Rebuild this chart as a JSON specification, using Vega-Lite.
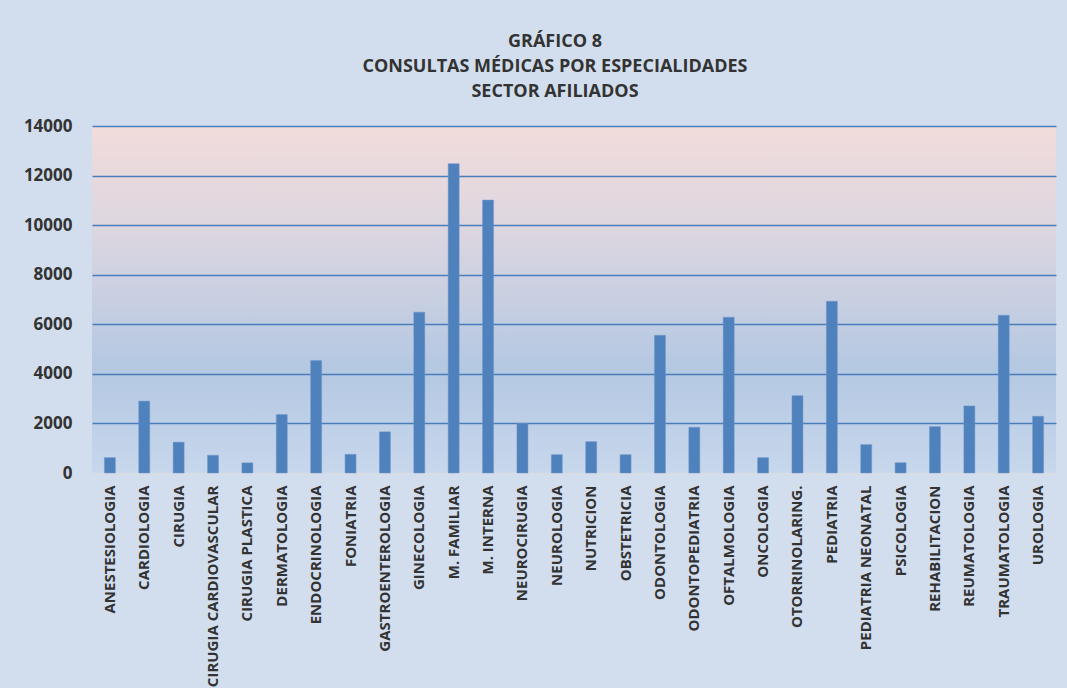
{
  "$schema": "https://vega.github.io/schema/vega-lite/v6.json",
  "width": 964,
  "height": 347,
  "autosize": {"type": "none"},
  "padding": {"left": 92, "top": 126, "right": 11, "bottom": 215},
  "background": "#d2deed",
  "title": {
    "text": ["GRÁFICO 8", "CONSULTAS MÉDICAS POR ESPECIALIDADES", "SECTOR AFILIADOS"],
    "font": "Open Sans",
    "fontSize": 18,
    "fontWeight": "bold",
    "color": "#333333",
    "lineHeight": 25,
    "anchor": "middle",
    "dx": -19,
    "offset": 16
  },
  "config": {
    "view": {
      "stroke": null,
      "fill": {
        "gradient": "linear",
        "x1": 0, "y1": 0, "x2": 0, "y2": 1,
        "stops": [
          {"offset": 0, "color": "#f2dcdb"},
          {"offset": 0.3, "color": "#dcd6e0"},
          {"offset": 0.7, "color": "#b4c8e2"},
          {"offset": 1, "color": "#c7d7ec"}
        ]
      }
    },
    "font": "Open Sans"
  },
  "data": {
    "values": [
      {"especialidad": "ANESTESIOLOGIA", "consultas": 620},
      {"especialidad": "CARDIOLOGIA", "consultas": 2900},
      {"especialidad": "CIRUGIA", "consultas": 1245},
      {"especialidad": "CIRUGIA CARDIOVASCULAR", "consultas": 715},
      {"especialidad": "CIRUGIA PLASTICA", "consultas": 410},
      {"especialidad": "DERMATOLOGIA", "consultas": 2360},
      {"especialidad": "ENDOCRINOLOGIA", "consultas": 4540},
      {"especialidad": "FONIATRIA", "consultas": 755},
      {"especialidad": "GASTROENTEROLOGIA", "consultas": 1660},
      {"especialidad": "GINECOLOGIA", "consultas": 6490},
      {"especialidad": "M. FAMILIAR", "consultas": 12480},
      {"especialidad": "M. INTERNA", "consultas": 11010},
      {"especialidad": "NEUROCIRUGIA", "consultas": 1995},
      {"especialidad": "NEUROLOGIA", "consultas": 740},
      {"especialidad": "NUTRICION", "consultas": 1265},
      {"especialidad": "OBSTETRICIA", "consultas": 740},
      {"especialidad": "ODONTOLOGIA", "consultas": 5560},
      {"especialidad": "ODONTOPEDIATRIA", "consultas": 1845},
      {"especialidad": "OFTALMOLOGIA", "consultas": 6285},
      {"especialidad": "ONCOLOGIA", "consultas": 620},
      {"especialidad": "OTORRINOLARING.", "consultas": 3120},
      {"especialidad": "PEDIATRIA", "consultas": 6930},
      {"especialidad": "PEDIATRIA NEONATAL", "consultas": 1145},
      {"especialidad": "PSICOLOGIA", "consultas": 415},
      {"especialidad": "REHABILITACION", "consultas": 1870},
      {"especialidad": "REUMATOLOGIA", "consultas": 2705},
      {"especialidad": "TRAUMATOLOGIA", "consultas": 6365},
      {"especialidad": "UROLOGIA", "consultas": 2290}
    ]
  },
  "mark": {"type": "bar", "color": "#4f81bd", "stroke": "#6f98cc", "strokeWidth": 0.5},
  "encoding": {
    "x": {
      "field": "especialidad",
      "type": "nominal",
      "sort": null,
      "scale": {"paddingInner": 0.68, "paddingOuter": 0.36},
      "axis": {
        "title": null,
        "labelAngle": 270,
        "labelAlign": "right",
        "labelBaseline": "middle",
        "labelFont": "Open Sans",
        "labelFontSize": 15,
        "labelFontWeight": "bold",
        "labelColor": "#333333",
        "labelPadding": 12,
        "labelLimit": 0,
        "labelOverlap": false,
        "ticks": false,
        "domain": true,
        "domainColor": "#d9dde3",
        "domainWidth": 1.5
      }
    },
    "y": {
      "field": "consultas",
      "type": "quantitative",
      "scale": {"domain": [0, 14000], "nice": false},
      "axis": {
        "title": null,
        "values": [0, 2000, 4000, 6000, 8000, 10000, 12000, 14000],
        "format": "d",
        "labelFont": "Open Sans",
        "labelFontSize": 17,
        "labelFontWeight": "bold",
        "labelColor": "#333333",
        "labelPadding": 20,
        "ticks": false,
        "domain": false,
        "grid": true,
        "gridColor": {"condition": {"test": "datum.value === 0", "value": "transparent"}, "value": "#4a7ebb"},
        "gridWidth": 1.5,
        "gridOpacity": 1
      }
    }
  }
}
